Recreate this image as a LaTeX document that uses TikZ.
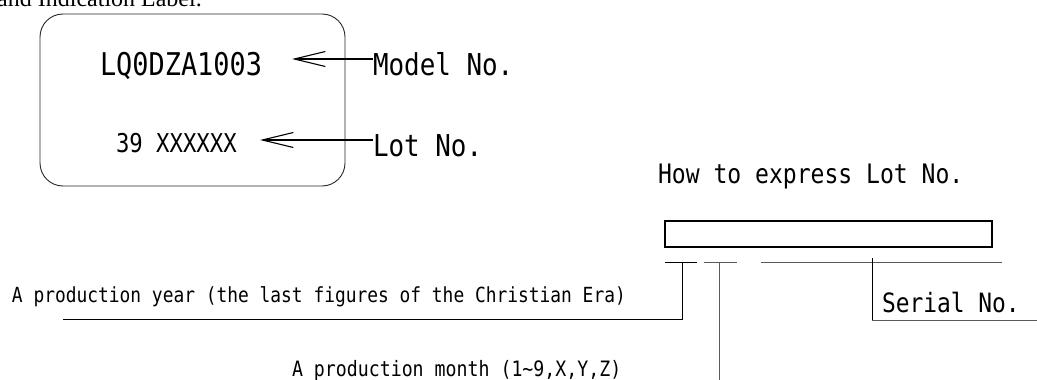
\documentclass[tikz,border=0pt]{standalone}
\usepackage{fontspec}
\setmainfont{Liberation Serif}
\newfontfamily\gf[FakeStretch=0.86]{DejaVu Sans Mono}
\usetikzlibrary{arrows.meta}
\tikzset{
  txt/.style={inner sep=0pt, outer sep=0pt, anchor=base west, font=\gf},
  ln/.style={line width=1pt, draw=black},
  lng/.style={line width=1pt, draw=black!65},
  arr/.style={line width=1.1pt, -{Straight Barb[length=31pt,width=15pt,line width=1.1pt]}},
}
\newcommand{\fs}[1]{\fontsize{#1}{#1}\selectfont}
\begin{document}
\begin{tikzpicture}[x=1pt,y=-1pt]
\useasboundingbox (0,0) rectangle (1037,380);
% heading, cut off at the top
\node[inner sep=0pt, anchor=base west, font=\fs{24}] (head) at (-3,6) {and Indication Label.};
% label
\node[draw=black!85, line width=0.9pt, rounded corners=23pt, minimum width=305pt, minimum height=172pt, inner sep=0pt] (labelbox) at (192.5,100) {};
\node[txt, font=\gf\fs{31.3}] (lq) at (100,75) {LQ0DZA1003};
\node[txt, font=\gf\fs{25.9}] (lotval) at (116,152) {39 XXXXXX};
\node[txt, font=\gf\fs{30.1}] (model) at (373,75) {Model No.};
\node[txt, font=\gf\fs{30.1}] (lot) at (373,156) {Lot No.};
\coordinate (mtip) at (292,59);
\coordinate (ltip) at (260,140);
\draw[arr] (model.west |- mtip) -- (mtip);
\draw[arr] (lot.west |- ltip) -- (ltip);
% how to express
\node[txt, font=\gf\fs{26.8}] (how) at (658,183) {How to express Lot No.};
\node[draw=black, line width=2pt, minimum width=327pt, minimum height=26pt, inner sep=0pt] (lotbox) at (828.5,234) {};
% segment marks
\coordinate (y1) at (665,262); \coordinate (y2) at (697,262);
\coordinate (m1) at (704,262); \coordinate (m2) at (737,262);
\coordinate (s1) at (761,262); \coordinate (s2) at (1002,262);
\draw[ln] (y1) -- (y2);
\draw[lng] (m1) -- (m2);
\draw[lng] (s1) -- (s2);
% year
\node[txt, font=\gf\fs{20.8}] (year) at (12,302) {A production year (the last figures of the Christian Era)};
\coordinate (yv) at (682,262);
\coordinate (yl) at (63,319);
\draw[ln] (yv) -- (yv |- yl) -- (yl);
% month
\node[txt, font=\gf\fs{21.2}] (month) at (292,376) {A production month (1\char`\~9,X,Y,Z)};
\coordinate (mv) at (719,262);
\coordinate (mb) at (719,382);
\draw[lng] (mv) -- (mb);
% serial
\node[txt, font=\gf\fs{26.6}] (serial) at (882,312.5) {Serial No.};
\coordinate (sv) at (872,258);
\coordinate (sr) at (1040,320);
\draw[ln] (sv) -- (sv |- sr);
\draw[lng] (sv |- sr) -- (sr);
\end{tikzpicture}
\end{document}
